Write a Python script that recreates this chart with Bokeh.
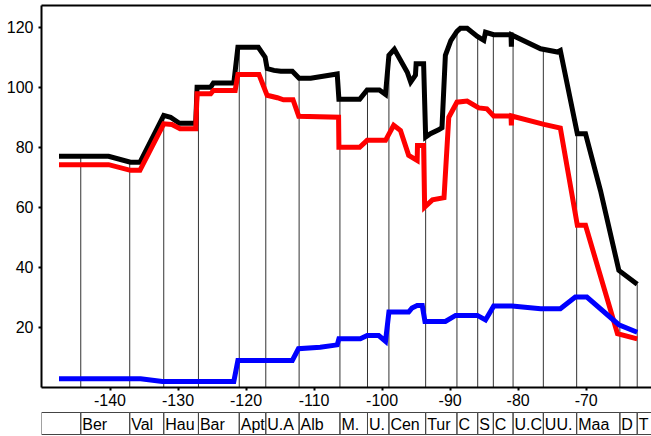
import numpy as np
from bokeh.plotting import figure
from bokeh.layouts import column
from bokeh.models import Range1d, FixedTicker, LinearAxis, CustomJSTickFormatter
from bokeh.core.properties import value
from bokeh.embed import file_html
from bokeh.resources import INLINE

# ---- data (time in Ma, negative) ----
black_x = [-147.5, -140.2, -137.0, -135.6, -132.1, -131.1, -129.8, -127.4, -127.2, -125.2,
           -124.8, -121.8, -121.2, -118.2, -117.2, -116.9, -115.9, -114.9, -113.2, -112.2,
           -110.5, -106.6, -106.35, -103.3, -102.2, -100.4, -99.5, -99.0, -98.2, -96.3,
           -95.8, -95.1, -95.0, -93.9, -93.6, -92.9, -91.7, -91.2, -90.7, -89.9,
           -89.0, -88.5, -87.5, -86.0, -85.05, -84.8, -83.6, -81.05, -81.0, -80.95,
           -76.7, -74.2, -73.8, -71.3, -70.1, -67.9, -65.2, -62.5]
black_y = [77.0, 77.0, 75.0, 75.0, 90.6, 90.0, 88.0, 88.0, 100.0, 100.0,
           101.4, 101.4, 113.3, 113.3, 110.0, 106.2, 105.6, 105.3, 105.3, 103.0,
           103.0, 104.4, 96.0, 96.0, 99.1, 99.1, 97.6, 110.6, 112.6, 105.0,
           101.7, 104.0, 107.8, 107.8, 83.4, 84.5, 85.8, 86.5, 110.6, 115.5,
           118.6, 119.6, 119.6, 116.9, 115.6, 118.3, 117.5, 117.5, 113.5, 117.4,
           112.8, 111.7, 112.2, 84.5, 84.5, 65.6, 39.0, 34.4]

red_x = [-147.5, -140.2, -137.0, -135.6, -132.1, -130.9, -129.7, -127.4, -127.2, -125.2,
         -124.8, -121.6, -121.2, -118.1, -116.9, -115.4, -114.5, -113.1, -112.25, -106.4,
         -106.35, -103.3, -102.2, -99.5, -98.3, -97.3, -96.1, -94.85, -94.8, -93.9,
         -93.75, -92.6, -90.9, -90.2, -89.0, -87.5, -85.8, -84.6, -83.6, -81.05,
         -81.0, -80.95, -76.2, -73.8, -71.3, -70.1, -65.4, -62.5]
red_y = [74.2, 74.2, 72.3, 72.3, 87.8, 87.6, 86.2, 86.2, 97.8, 97.8,
         98.9, 98.9, 104.2, 104.2, 97.3, 96.5, 95.8, 95.8, 90.3, 90.0,
         80.0, 80.0, 82.3, 82.3, 87.3, 85.6, 77.3, 75.6, 80.6, 80.6,
         60.1, 62.5, 63.2, 90.0, 95.0, 95.4, 93.1, 92.8, 90.4, 90.4,
         87.3, 90.4, 87.6, 86.4, 54.0, 54.0, 17.9, 16.2]

blue_x = [-147.5, -135.5, -132.3, -121.8, -121.2, -113.2, -112.3, -109.1, -106.6, -106.35,
          -103.2, -102.2, -100.5, -99.5, -99.0, -96.1, -95.6, -94.85, -94.1, -93.7,
          -90.7, -89.2, -86.0, -84.8, -83.6, -80.9, -76.7, -73.8, -71.6, -69.9,
          -65.2, -62.5]
blue_y = [2.9, 2.9, 2.0, 2.0, 9.0, 9.0, 12.9, 13.4, 14.2, 16.2,
          16.2, 17.3, 17.3, 15.4, 25.1, 25.1, 26.5, 27.3, 27.3, 22.0,
          22.0, 24.0, 24.0, 22.5, 27.1, 27.1, 26.2, 26.2, 30.1, 30.1,
          20.9, 18.4]

stage_bounds = [-144.3, -137.1, -132.1, -127.0, -121.0, -117.1, -112.2, -106.2, -102.15, -99.0,
                -93.6, -89.0, -85.95, -83.65, -80.75, -76.3, -71.4, -65.05, -62.5]
stage_labels = ["Ber", "Val", "Hau", "Bar", "Apt", "U.A", "Alb", "M.", "U.", "Cen",
                "Tur", "C", "S", "C", "U.C", "UU.", "Maa", "D", "T"]

x_ticks = [-140, -130, -120, -110, -100, -90, -80, -70]
y_ticks = [20, 40, 60, 80, 100, 120]

x_start, x_end = -150.07, -60.40
y_end = 127.2
FONT = "Liberation Sans"

W = 651
# ---- main plot ----
p = figure(width=W, height=411, x_range=Range1d(x_start, x_end), y_range=Range1d(0, y_end),
           output_backend="svg", toolbar_location=None,
           min_border_left=41, min_border_right=0, min_border_top=5, min_border_bottom=24)
p.grid.visible = False
p.outline_line_color = None
p.background_fill_color = "white"
p.border_fill_color = "white"

for ax in (p.xaxis[0], p.yaxis[0]):
    ax.axis_line_width = 2
    ax.axis_line_color = "black"
    ax.major_tick_in = 0
    ax.major_tick_out = 3
    ax.major_tick_line_width = 2
    ax.minor_tick_in = 0
    ax.minor_tick_out = 0
    ax.major_label_text_font = FONT
    ax.major_label_text_font_size = "16px"
    ax.major_label_text_color = "black"
p.xaxis[0].major_label_standoff = 3
p.yaxis[0].major_label_standoff = 5

p.xaxis[0].ticker = FixedTicker(ticks=x_ticks)
p.yaxis[0].ticker = FixedTicker(ticks=y_ticks)
p.xaxis[0].formatter = CustomJSTickFormatter(code="return String(tick)")
p.yaxis[0].formatter = CustomJSTickFormatter(code="return String(tick)")

top_axis = LinearAxis(ticker=FixedTicker(ticks=[]), major_tick_out=0, major_tick_in=0,
                      minor_tick_out=0, minor_tick_in=0, major_label_text_font_size="0px",
                      major_label_standoff=0, axis_line_width=2, axis_line_color="black")
p.add_layout(top_axis, "above")

tops = np.interp(stage_bounds, black_x, black_y)
p.segment(x0=stage_bounds, y0=[0] * len(stage_bounds), x1=stage_bounds, y1=tops,
          line_color="#333333", line_width=1)

p.line(black_x, black_y, line_color="black", line_width=5, line_join="miter")
p.line(red_x, red_y, line_color="#ff0000", line_width=5, line_join="miter")
p.line(blue_x, blue_y, line_color="#0000ff", line_width=5, line_join="miter")

# ---- stage strip ----
SH = 25
s = figure(width=W, height=SH, x_range=p.x_range, y_range=Range1d(0, SH),
           output_backend="svg", toolbar_location=None,
           min_border_left=41, min_border_right=0, min_border_top=0, min_border_bottom=0)
s.xaxis.visible = False
s.yaxis.visible = False
s.grid.visible = False
s.outline_line_color = None
s.background_fill_color = "white"
s.border_fill_color = "white"

lefts = [x_start] + stage_bounds
rights = stage_bounds + [x_end]
s.quad(left=lefts, right=rights, bottom=[2] * len(lefts), top=[24] * len(lefts),
       fill_color=None, line_color="#444444", line_width=1)
s.text(x=stage_bounds, y=[12.5] * len(stage_bounds), text=stage_labels,
       x_offset=1.5, text_font=value(FONT), text_font_size="16px", text_color="black",
       text_baseline="middle", text_align="left")

layout = column(p, s, spacing=0)
open("out.html", "w").write(file_html(layout, INLINE))
